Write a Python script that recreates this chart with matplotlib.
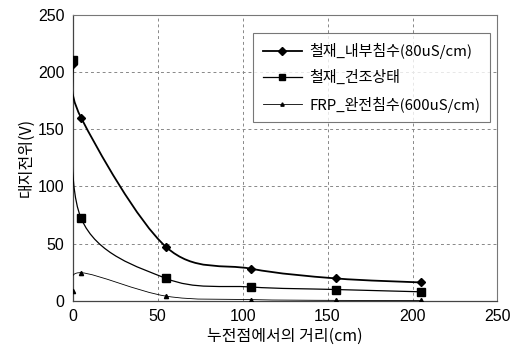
import matplotlib
matplotlib.use("Agg")
import matplotlib.pyplot as plt
import numpy as np
from matplotlib.path import Path
from matplotlib.patches import PathPatch
from matplotlib.lines import Line2D

plt.rcParams['font.family'] = ['Liberation Sans', 'Noto Sans CJK KR', 'DejaVu Sans']

# distance from leakage point (cm)
dist = [0, 5, 55, 105, 155, 205]
steel_wet = [207, 160, 47, 28, 19.5, 16]      # 철재_내부침수(80uS/cm)
steel_dry = [211, 72, 19.5, 12, 9.8, 7.8]     # 철재_건조상태
frp_wet = [8.5, 24.5, 4, 1, 0.3, 0.2]         # FRP_완전침수(600uS/cm)

labels = ["철재_내부침수(80uS/cm)", "철재_건조상태", "FRP_완전침수(600uS/cm)"]
xticks = [0, 50, 100, 150, 200, 250]
yticks = [0, 50, 100, 150, 200, 250]


def smooth_path(x, y):
    """Excel-style smoothed line as cubic Bezier segments."""
    p = np.column_stack([x, y]).astype(float)
    n = len(p)
    verts = [p[0]]
    codes = [Path.MOVETO]
    for i in range(n - 1):
        prev = p[i - 1] if i > 0 else p[i]
        nxt = p[i + 2] if i + 2 < n else p[i + 1]
        c1 = p[i] + (p[i + 1] - prev) / 6.0
        c2 = p[i + 1] - (nxt - p[i]) / 6.0
        verts += [c1, c2, p[i + 1]]
        codes += [Path.CURVE4] * 3
    return Path(verts, codes)


fig = plt.figure(figsize=(5.18, 3.58), dpi=100)
ax = fig.add_axes([0.1403, 0.160, 0.8201, 0.798])

series = [
    (steel_wet, "D", 4.5, 1.3),
    (steel_dry, "s", 5.5, 0.9),
    (frp_wet, "^", 3, 0.6),
]
handles = []
for (vals, mk, ms, lw), lab in zip(series, labels):
    ax.add_patch(PathPatch(smooth_path(dist, vals), facecolor="none",
                           edgecolor="black", lw=lw, zorder=3))
    ax.plot(dist, vals, ls="none", marker=mk, ms=ms, color="black", zorder=4)
    handles.append(Line2D([], [], color="black", lw=lw, marker=mk, ms=ms * 0.8))

ax.set_xlim(0, 250)
ax.set_ylim(0, 250)
ax.set_xticks(xticks)
ax.set_yticks(yticks)
ax.tick_params(length=0, labelsize=11.5, pad=6)
ax.grid(True, ls=(0, (3, 3)), color="#888888", lw=0.7)
for side in ("top", "right"):
    ax.spines[side].set_color("#777777")
    ax.spines[side].set_linewidth(0.8)
for side in ("left", "bottom"):
    ax.spines[side].set_color("#444444")
    ax.spines[side].set_linewidth(0.9)

ax.set_xlabel("누전점에서의 거리(cm)", fontsize=11.5, labelpad=3,
              family=['Noto Sans CJK KR', 'DejaVu Sans'])
ax.set_ylabel("대지전위(V)", fontsize=11.5, labelpad=2,
              family=['Noto Sans CJK KR', 'DejaVu Sans'])

leg = ax.legend(handles, labels, loc="upper right", bbox_to_anchor=(0.982, 0.937),
                frameon=True, fancybox=False, edgecolor="#555555",
                handlelength=2.6, handletextpad=0.5, borderpad=0.65,
                labelspacing=0.75, borderaxespad=0,
                prop={'family': ['Noto Sans CJK KR', 'DejaVu Sans'], 'size': 10.8})
leg.get_frame().set_linewidth(0.8)

fig.savefig("out.png", dpi=100)
